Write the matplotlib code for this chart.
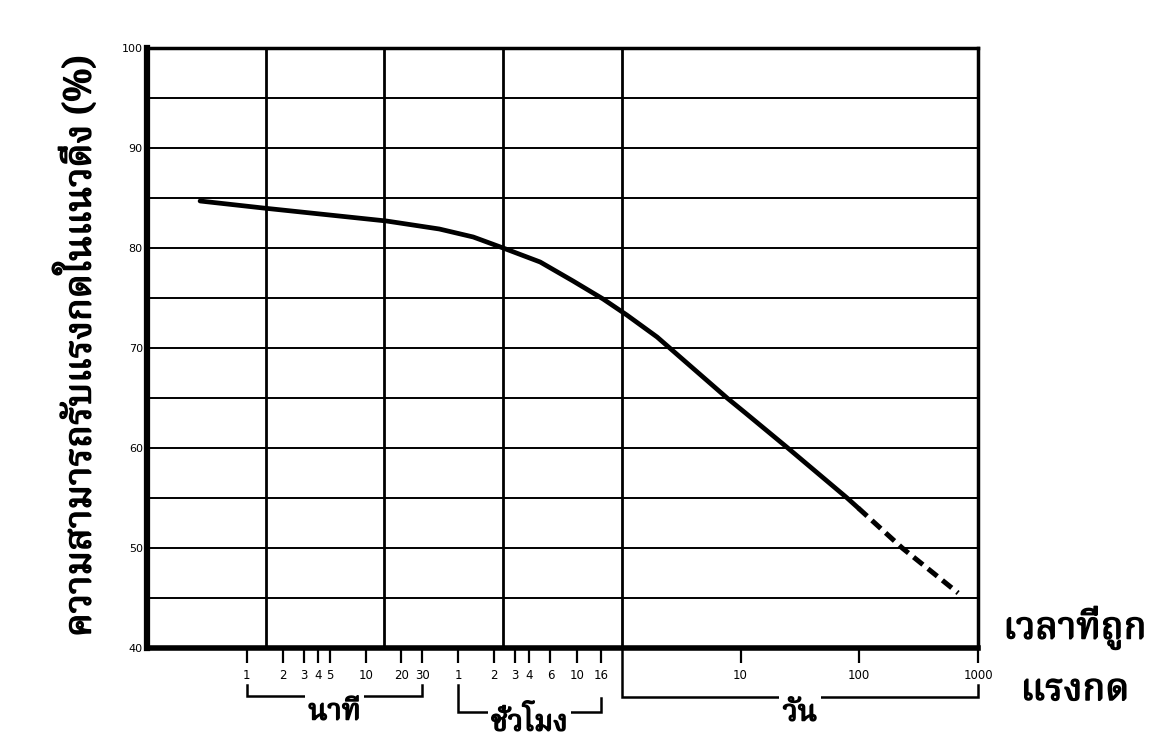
import numpy as np
import matplotlib
matplotlib.use("Agg")
import matplotlib.pyplot as plt
import matplotlib.patheffects as pe
from matplotlib import font_manager as fm
from matplotlib.ft2font import FT2Font
from matplotlib.ticker import FixedLocator, NullFormatter

# ---------------- data ----------------
time_days_solid = [0.00028, 0.00095, 0.0104, 0.029, 0.056, 0.1, 0.205, 0.388,
                   0.695, 1.1, 1.98, 7.7, 11, 25, 79, 98]
capacity_solid = [84.7, 84.0, 82.7, 81.9, 81.1, 80.0, 78.6, 76.7,
                  74.9, 73.3, 71.1, 65.0, 63.5, 60.0, 55.0, 54.0]
time_days_dashed = [98, 230, 680]
capacity_dashed = [54.0, 50.0, 45.5]

minute_ticks = [1, 2, 3, 4, 5, 10, 20, 30]
hour_ticks = [1, 2, 3, 4, 6, 10, 16]
day_ticks = [10, 100, 1000]
y_ticks = [40, 50, 60, 70, 80, 90, 100]
y_minor = [45, 55, 65, 75, 85, 95]
x_grid_days = [1e-4, 1e-3, 1e-2, 1e-1, 1, 10, 100, 1000]

y_label = "ความสามารถรับแรงกดในแนวดิ่ง (%)"
x_label = "เวลาที่ถูก\nแรงกด"
group_labels = ["นาที", "ชั่วโมง", "วัน"]

# ---------------- font with Thai glyphs ----------------
def thai_fonts():
    found = {}
    for f in fm.fontManager.ttflist:
        if f.name in found:
            continue
        try:
            cm = FT2Font(f.fname).get_charmap()
        except Exception:
            continue
        if 0x0E01 in cm and 0x0E27 in cm and 0x0E34 in cm:
            found[f.name] = f.fname
    return list(found)

avail = thai_fonts()
pref = ["Noto Serif Thai", "Noto Sans Thai Looped", "Norasi", "Kinnari",
        "Garuda", "Loma", "Sarabun", "TH Sarabun New", "Noto Sans Thai",
        "Tlwg Typo", "Umpush", "Waree"]
thai = None
for p in pref:
    if p in avail:
        thai = p
        break
if thai is None and avail:
    thai = avail[0]
thai_family = [thai, "DejaVu Sans"] if thai else ["DejaVu Sans"]
bold_fx = [pe.withStroke(linewidth=1.1, foreground="black")]

# ---------------- figure ----------------
W, H = 1169, 746
fig = plt.figure(figsize=(W / 100, H / 100), dpi=100)
fig.patch.set_facecolor("white")
ax_l, ax_r, ax_b, ax_t = 147, 978, 98, 698  # pixel box (bottom-origin)
ax = fig.add_axes([ax_l / W, ax_b / H, (ax_r - ax_l) / W, (ax_t - ax_b) / H])
ax_h_px = ax_t - ax_b

ax.set_xscale("log")
ax.set_xlim(1e-4, 1e3)
ax.set_ylim(40, 100)

# grid
ax.xaxis.set_minor_locator(FixedLocator(x_grid_days))
ax.xaxis.set_minor_formatter(NullFormatter())
ax.yaxis.set_major_locator(FixedLocator(y_ticks))
ax.yaxis.set_minor_locator(FixedLocator(y_minor))
ax.grid(False)
ax.grid(True, which="minor", axis="x", color="black", lw=2.0)
ax.grid(True, which="both", axis="y", color="black", lw=1.4)
ax.tick_params(axis="x", which="minor", length=0)
ax.tick_params(axis="y", which="both", length=0, pad=3, labelsize=8)
ax.set_yticklabels([str(v) for v in y_ticks])

# x ticks (minutes, hours, days converted to days)
xt = [m / 1440 for m in minute_ticks] + [h / 24 for h in hour_ticks] + list(day_ticks)
xl = [str(m) for m in minute_ticks] + [str(h) for h in hour_ticks] + [str(d) for d in day_ticks]
ax.set_xticks(xt)
ax.set_xticklabels(xl)
ax.tick_params(axis="x", which="major", direction="out", length=11, width=1.6,
               pad=4, labelsize=8.5)

for side, lw in [("left", 4.5), ("bottom", 4.0), ("top", 2.5), ("right", 2.5)]:
    ax.spines[side].set_linewidth(lw)
    ax.spines[side].set_color("black")

# curve
ax.plot(time_days_solid, capacity_solid, color="black", lw=3.4,
        solid_capstyle="round", solid_joinstyle="round", zorder=5)
ax.plot(time_days_dashed, capacity_dashed, color="black", lw=3.6,
        linestyle=(0, (2.4, 1.3)), zorder=5)

# brackets below axis
trans = ax.get_xaxis_transform()
d = lambda px: -px / ax_h_px
bk = dict(color="black", lw=1.8, clip_on=False, transform=trans,
          solid_joinstyle="miter")

m0, m1 = minute_ticks[0] / 1440, minute_ticks[-1] / 1440
ax.plot([m0, m0, m1, m1], [d(37), d(48), d(48), d(37)], **bk)
h0, h1 = hour_ticks[0] / 24, hour_ticks[-1] / 24
ax.plot([h0, h0, h1, h1], [d(37), d(64), d(64), d(50)], **bk)
d0, d1 = 1.0, day_ticks[-1]
ax.plot([d0, d0, d1, d1], [d(0), d(49), d(49), d(37)], **bk)

box = dict(facecolor="white", edgecolor="none", pad=2.5)
tkw = dict(transform=trans, ha="center", va="center", fontsize=21,
           family=thai_family, bbox=box, clip_on=False, path_effects=bold_fx)
ax.text(np.sqrt(m0 * m1), d(64), group_labels[0], **tkw)
ax.text(np.sqrt(h0 * h1), d(75), group_labels[1], **tkw)
ax.text(np.sqrt(d0 * d1), d(65), group_labels[2], **tkw)

# axis titles
fig.text(78 / W, 1 - 346 / H, y_label, rotation=90, ha="center", va="center",
         fontsize=27, family=thai_family, path_effects=bold_fx)
lines = x_label.split("\n")
fig.text(1075 / W, 1 - 628 / H, lines[0], ha="center", va="center",
         fontsize=27, family=thai_family, path_effects=bold_fx)
fig.text(1075 / W, 1 - 690 / H, lines[1], ha="center", va="center",
         fontsize=27, family=thai_family, path_effects=bold_fx)

fig.savefig("out.png", dpi=100, facecolor="white")
